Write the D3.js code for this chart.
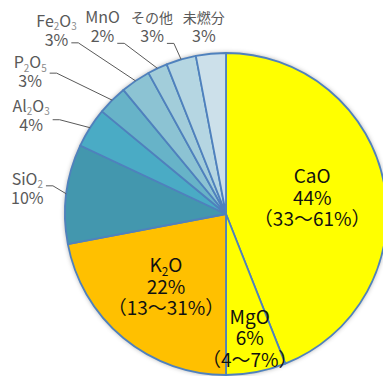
<!DOCTYPE html>
<html>
<head>
<meta charset="utf-8">
<script src="https://cdn.jsdelivr.net/npm/d3@7"></script>
<style>
  html, body { margin: 0; padding: 0; background: #fff; }
  svg { display: block; overflow: hidden; }
</style>
</head>
<body>
<div id="chart"></div>
<script>
// 成分の名前と割合（%）
const categories = ["CaO", "MgO", "K2O", "SiO2", "Al2O3", "P2O5", "Fe2O3", "MnO", "その他", "未燃分"];
const values = [44, 6, 22, 10, 4, 3, 3, 2, 3, 3];
const ranges = ["33～61%", "4～7%", "13～31%", null, null, null, null, null, null, null];
const colors = ["#FFFF00", "#FFFF00", "#FFC000", "#4397AE", "#4AABC5", "#67B3C8", "#8CC3D3", "#A2CDDA", "#B5D6E2", "#CCE0EA"];

// ラベル配置（内側ラベルは半径の割合、外側ラベルは円周上の点からのずれ）
const innerRadiusRatio = { "CaO": 0.545, "MgO": 0.785, "K2O": 0.585 };
const outerOffset = {
  "SiO2":  { dx: -39, dy: -9,  line: 0, ly: 1 },
  "Al2O3": { dx: -59, dy: -16, line: 0, ly: 8 },
  "P2O5":  { dx: -82, dy: -32, line: 0, ly: 5 },
  "Fe2O3": { dx: -79, dy: -54, line: 1, ly: 16 },
  "MnO":   { dx: -55, dy: -45, line: 1, ly: 20 },
  "その他": { dx: -29, dy: -36, line: 1, ly: 20 },
  "未燃分": { dx: -7,  dy: -31, line: null }
};

const width = 383, height = 376;
const cx = 226, cy = 214, radius = 161;
const font = "'Noto Sans CJK JP', 'Noto Sans', sans-serif";

const svg = d3.select("#chart").append("svg")
    .attr("width", width)
    .attr("height", height);

const defs = svg.append("defs");
const shadow = defs.append("filter")
    .attr("id", "shadow")
    .attr("x", "-20%").attr("y", "-20%")
    .attr("width", "140%").attr("height", "140%");
shadow.append("feDropShadow")
    .attr("dx", 0).attr("dy", 0)
    .attr("stdDeviation", 2.5)
    .attr("flood-color", "#000")
    .attr("flood-opacity", 0.4);

const g = svg.append("g").attr("transform", `translate(${cx},${cy})`);

const pie = d3.pie().sort(null).value(d => d);
const arcs = pie(values);
const arc = d3.arc().innerRadius(0).outerRadius(radius);

// 影
g.append("circle")
    .attr("r", radius)
    .attr("fill", "#fff")
    .attr("filter", "url(#shadow)");

// 扇形
g.selectAll(".slice")
  .data(arcs)
  .join("path")
    .attr("class", "slice")
    .attr("d", arc)
    .attr("fill", (d, i) => colors[i])
    .attr("stroke", "#4F81BD")
    .attr("stroke-width", 1.8)
    .attr("stroke-linejoin", "round");

// 化学式の数字を下付きにする
function addFormula(sel, name, size, subColor) {
  const shift = size * 0.22;
  let down = false;
  name.split(/(\d+)/).filter(s => s.length).forEach(part => {
    const sub = /^\d+$/.test(part);
    const ts = sel.append("tspan").text(part);
    if (sub) {
      ts.attr("font-size", size * 0.62).attr("dy", shift).attr("fill", subColor);
      down = true;
    } else if (down) {
      ts.attr("dy", -shift);
      down = false;
    }
  });
}

// 内側ラベル（1つの text に行ごとの tspan）
const innerSize = 19, innerLine = 21.5;
arcs.forEach((d, i) => {
  const name = categories[i];
  if (!(name in innerRadiusRatio)) return;
  const r = radius * innerRadiusRatio[name];
  const [x, y] = d3.arc().innerRadius(r).outerRadius(r).centroid(d);
  const t = g.append("text")
      .attr("text-anchor", "middle")
      .attr("font-family", font)
      .attr("font-size", innerSize)
      .attr("fill", "#111");
  const lines = [name, values[i] + "%", "（" + ranges[i] + "）"];
  lines.forEach((txt, k) => {
    const row = t.append("tspan")
        .attr("x", x)
        .attr("y", y + 7 + (k - 1) * innerLine);
    if (k === 0) addFormula(row, txt, innerSize, "#111");
    else row.text(txt);
  });
});

// 外側ラベルと引き出し線
const outerSize = 16, cjkSize = 14, outerLine = 19;
arcs.forEach((d, i) => {
  const name = categories[i];
  const off = outerOffset[name];
  if (!off) return;
  const mid = (d.startAngle + d.endAngle) / 2;
  const px = Math.sin(mid) * radius, py = -Math.cos(mid) * radius;
  const lx = px + off.dx, ly = py + off.dy;
  const t = g.append("text")
      .attr("text-anchor", "middle")
      .attr("font-family", font)
      .attr("font-size", outerSize)
      .attr("fill", "#595959");
  const rows = [name, values[i] + "%"].map((txt, k) => {
    const row = t.append("tspan")
        .attr("x", lx)
        .attr("y", ly + k * outerLine);
    if (/[^\x00-\x7f]/.test(txt)) row.attr("font-size", cjkSize);
    if (k === 0) addFormula(row, txt, outerSize, "#8a8a8a");
    else row.text(txt);
    return row;
  });
  if (off.line === null) return;
  const len = rows[off.line].node().getComputedTextLength();
  const sx = lx + len / 2 + 3;
  const sy = ly + off.ly;
  g.append("path")
      .attr("d", d3.line()([[sx, sy], [sx + 7, sy], [px, py]]))
      .attr("fill", "none")
      .attr("stroke", "#595959")
      .attr("stroke-width", 1);
});
</script>
</body>
</html>
